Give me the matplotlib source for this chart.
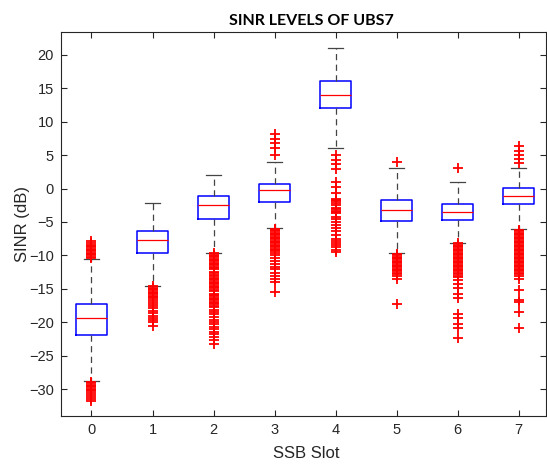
"""SINR levels of UBS7 per SSB slot, MATLAB style boxplot"""

import matplotlib
matplotlib.use('Agg')
import matplotlib.pyplot as plt

slots = [0, 1, 2, 3, 4, 5, 6, 7]

# box statistics (dB)
whis_hi = [-10.5, -2.2, 2.0, 4.0, 21.0, 3.0, 1.0, 3.0]
q3 = [-17.3, -6.3, -1.1, 0.65, 16.0, -1.7, -2.35, 0.05]
medians = [-19.4, -7.7, -2.5, -0.25, 14.0, -3.2, -3.45, -1.15]
q1 = [-21.9, -9.6, -4.55, -2.0, 12.0, -4.9, -4.7, -2.35]
whis_lo = [-28.7, -14.5, -9.6, -5.85, 6.0, -9.7, -8.1, -6.1]

# outliers per slot
fliers_0 = [-10.4, -10.2, -10.0, -9.8, -9.6, -9.4, -9.2, -9.0, -8.8, -8.6,
            -8.4, -8.2, -7.9,
            -28.9, -29.1, -29.3, -29.5, -29.7, -29.9, -30.1, -30.3, -30.6,
            -30.9, -31.2, -31.5, -31.8]
fliers_1 = [-14.6, -14.8, -15.0, -15.2, -15.4, -15.6, -15.8, -16.0, -16.2,
            -16.4, -16.6, -16.9, -17.3, -17.6, -17.9, -18.3, -18.6, -19.0,
            -19.3, -19.7, -20.0, -20.5]
fliers_2 = [-9.7, -9.9, -10.1, -10.3, -10.5, -10.7, -10.9, -11.1, -11.3,
            -11.5, -11.7, -11.9, -12.1, -12.5, -12.7, -12.9, -13.1, -13.3,
            -13.5, -13.7, -13.9, -14.1, -14.3, -14.5, -14.7, -14.9, -15.1,
            -15.3, -15.7, -15.9, -16.1, -16.3, -16.5, -16.7, -16.9, -17.1,
            -17.3, -17.5, -17.7, -18.1, -18.5, -18.8, -19.2, -19.6, -19.9,
            -20.3, -20.7, -21.0, -21.4, -21.8, -22.2, -22.6, -23.2]
fliers_3 = [5.0, 6.0, 6.8, 7.4, 8.2,
            -6.0, -6.2, -6.4, -6.6, -6.8, -7.0, -7.2, -7.4, -7.6, -7.8, -8.0,
            -8.2, -8.4, -8.6, -8.8, -9.0, -9.2, -9.4, -9.6, -10.0, -10.4,
            -10.8, -11.3, -11.7, -12.1, -12.6, -13.0, -13.5, -13.9, -15.4]
fliers_4 = [5.0, 4.2, 3.6, 2.9, 1.0, 0.3, -0.6, -1.5, -1.7, -1.9, -2.1,
            -2.5, -2.9, -3.1, -3.3, -3.5, -3.7, -4.2, -4.6, -5.0, -5.5, -5.9,
            -6.4, -7.0, -7.5, -7.9, -8.2, -8.5, -8.8, -9.2, -9.5]
fliers_5 = [4.0,
            -9.8, -10.0, -10.2, -10.4, -10.6, -10.8, -11.0, -11.2, -11.4,
            -11.6, -11.8, -12.0, -12.2, -12.4, -12.6, -12.8, -13.0, -13.5,
            -17.3]
fliers_6 = [3.0,
            -8.2, -8.4, -8.6, -8.8, -9.0, -9.2, -9.4, -9.6, -9.8, -10.0,
            -10.2, -10.4, -10.6, -10.8, -11.0, -11.2, -11.4, -11.6, -11.8,
            -12.0, -12.2, -12.4, -12.6, -12.8, -13.0, -13.2, -13.7, -14.2,
            -14.9, -15.7, -16.4, -18.7, -19.4, -20.2, -20.9, -22.4]
fliers_7 = [3.8, 4.4, 5.0, 5.6, 6.3,
            -6.2, -6.4, -6.6, -6.8, -7.0, -7.2, -7.4, -7.6, -7.8, -8.0, -8.2,
            -8.4, -8.6, -8.8, -9.0, -9.2, -9.4, -9.6, -9.8, -10.0, -10.2,
            -10.4, -10.6, -10.8, -11.0, -11.2, -11.4, -11.6, -11.8, -12.0,
            -12.2, -12.4, -12.6, -12.8, -13.1, -13.5, -15.2, -16.6, -17.0,
            -18.4, -20.8]
fliers = [fliers_0, fliers_1, fliers_2, fliers_3,
          fliers_4, fliers_5, fliers_6, fliers_7]

AX_COLOR = '#262626'


def build_stats() -> list:
    """pack the read values into the dicts bxp wants"""
    stats = []
    for i in range(len(slots)):
        stats.append({
            'med': medians[i], 'q1': q1[i], 'q3': q3[i],
            'whislo': whis_lo[i], 'whishi': whis_hi[i],
            'fliers': fliers[i], 'label': str(slots[i]),
        })
    return stats


def plot_boxes() -> None:
    """draw the boxplot and save it"""
    plt.rcParams['font.family'] = ['Liberation Sans', 'DejaVu Sans']
    fig = plt.figure(figsize=(5.47, 4.65), dpi=100)
    ax = fig.add_axes([0.1115, 0.1054, 0.8867, 0.8258])

    ax.bxp(build_stats(), positions=slots, widths=0.5, showfliers=True,
           boxprops=dict(color='#0000ff', linewidth=1.1),
           medianprops=dict(color='#ff0000', linewidth=0.9),
           whiskerprops=dict(color='#444444', linewidth=0.9,
                             linestyle=(0, (5, 3.5))),
           capprops=dict(color='#444444', linewidth=0.9),
           capwidths=0.25,
           flierprops=dict(marker='+', markeredgecolor='#ff0000',
                           markersize=7, markeredgewidth=1.3,
                           linestyle='none'))

    ax.set_xlim(-0.5, 7.45)
    ax.set_ylim(-34.0, 23.4)
    ax.set_xticks(slots)
    ax.set_xticklabels([str(s) for s in slots])
    ax.set_yticks(range(-30, 21, 5))

    ax.tick_params(direction='in', top=True, right=True, length=4,
                   width=0.8, color=AX_COLOR, labelcolor=AX_COLOR,
                   labelsize=10.5)
    ax.tick_params(axis='y', pad=5)
    ax.tick_params(axis='x', pad=5)
    for spine in ax.spines.values():
        spine.set_color(AX_COLOR)
        spine.set_linewidth(0.8)

    # labels
    ax.set_xlabel('SSB Slot', fontsize=12, color=AX_COLOR)
    ax.xaxis.set_label_coords(0.505, -0.078)
    ax.set_ylabel('SINR (dB)', fontsize=12, color=AX_COLOR)
    ax.yaxis.set_label_coords(-0.064, 0.5)
    # title sits a bit right of the axes centre in the original
    fig.text(0.570, 0.946, 'SINR LEVELS OF UBS7', fontsize=11.5,
             fontweight='bold', family=['Lato', 'DejaVu Sans'],
             ha='center', va='baseline')

    fig.savefig('out.png', dpi=100)


plot_boxes()
